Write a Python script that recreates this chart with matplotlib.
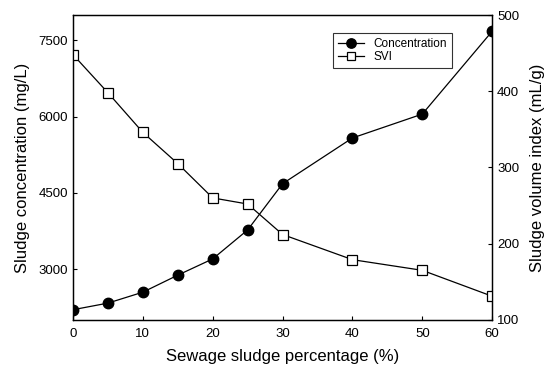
import matplotlib
matplotlib.use("Agg")
import matplotlib.pyplot as plt

plt.rcParams['font.family'] = ['Liberation Sans', 'DejaVu Sans']

# sewage sludge percentage (%)
pct = [0, 5, 10, 15, 20, 25, 30, 40, 50, 60]
# sludge concentration (mg/L)
conc = [2200, 2330, 2545, 2880, 3200, 3770, 4680, 5580, 6050, 7680]
# sludge volume index (mL/g)
svi = [448, 398, 346, 305, 260, 252, 212, 179, 165, 131]

fig = plt.figure(figsize=(5.53, 3.75), dpi=100)
ax = fig.add_axes([0.132, 0.147, 0.758, 0.813])
ax2 = ax.twinx()

l1, = ax.plot(pct, conc, '-o', color='black', lw=0.9, ms=7.5,
              label='Concentration')
l2, = ax2.plot(pct, svi, '-s', color='black', lw=0.9, ms=6.5,
               mfc='white', mec='black', mew=0.9, label='SVI')

ax.set_xlim(0, 60)
ax.set_ylim(2000, 8000)
ax2.set_ylim(100, 500)
ax.set_xticks([0, 10, 20, 30, 40, 50, 60])
ax.set_yticks([3000, 4500, 6000, 7500])
ax2.set_yticks([100, 200, 300, 400, 500])

for a in (ax, ax2):
    a.tick_params(direction='in', length=3, labelsize=9.5, width=0.8)
    for s in a.spines.values():
        s.set_linewidth(0.9)
ax.tick_params(axis='x', pad=6)

ax.set_xlabel('Sewage sludge percentage (%)', fontsize=12, labelpad=6)
ax.set_ylabel('Sludge concentration (mg/L)', fontsize=12, labelpad=6)
ax2.set_ylabel('Sludge volume index (mL/g)', fontsize=12, labelpad=8)

leg = ax.legend(handles=[l1, l2], loc='upper left',
                bbox_to_anchor=(0.62, 0.942), borderaxespad=0,
                fontsize=8.5, frameon=True, fancybox=False,
                edgecolor='black', handlelength=2.2, borderpad=0.45,
                labelspacing=0.1, handletextpad=0.8, markerscale=0.9)
leg.get_frame().set_linewidth(0.8)

fig.savefig('out.png', dpi=100)
